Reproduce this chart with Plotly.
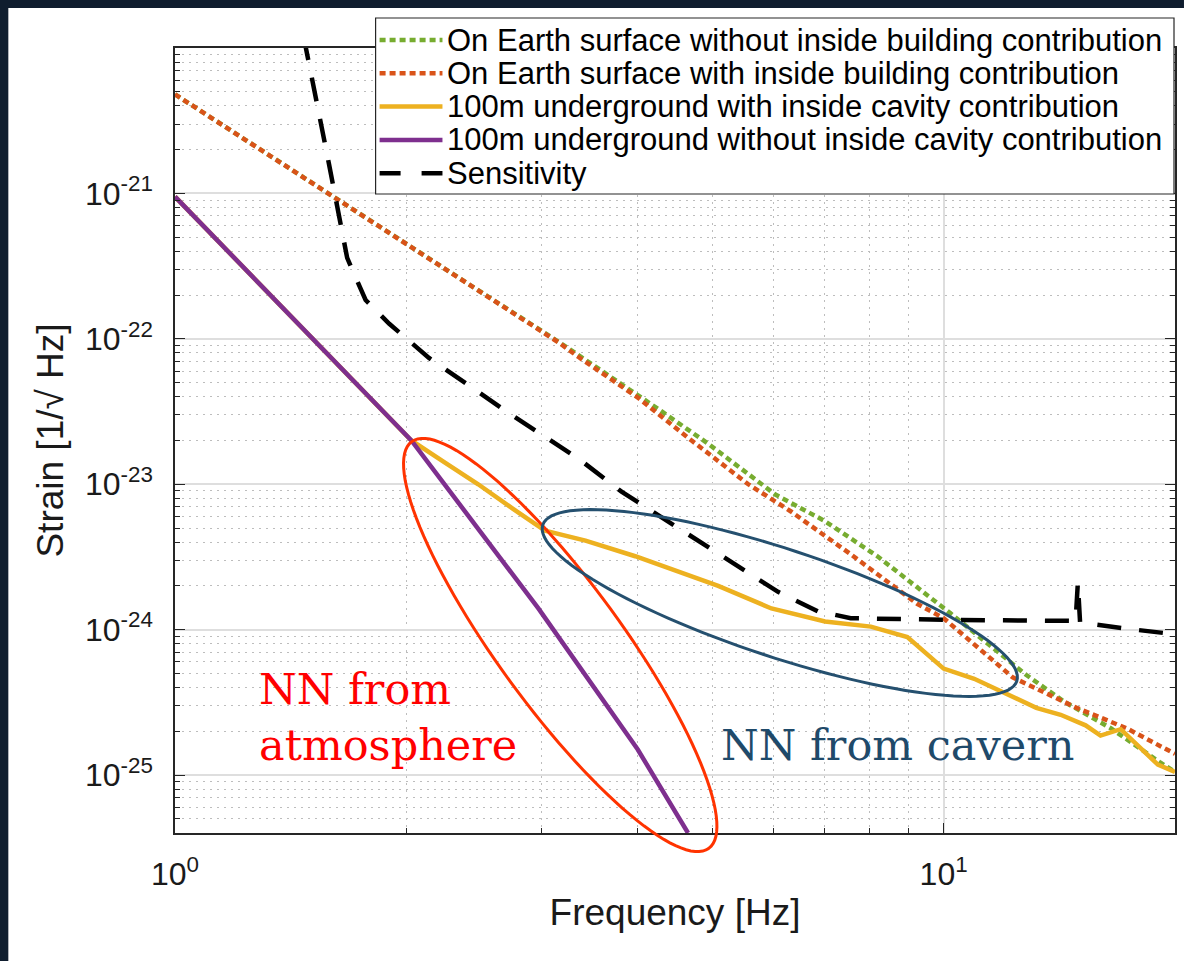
import numpy as np
import plotly.graph_objects as go

# ---------------- data ----------------
series_names = [
    "On Earth surface without inside building contribution",
    "On Earth surface with inside building contribution",
    "100m underground with inside cavity contribution",
    "100m underground without inside cavity contribution",
    "Sensitivity",
]

freq_surface_without = [1.0, 1.37, 1.61, 2.0, 2.5, 3.16, 3.6, 4.25, 4.94, 5.79, 6.04, 7.0,
                        8.2, 10.2, 12.8, 14.35, 16.5, 19.1, 20.0]
strain_surface_without = [4.8e-21, 1.63e-21, 9.4e-22, 4.5e-22, 2.1e-22, 9.5e-23, 6.0e-23, 3.3e-23,
                          1.9e-23, 1.0e-23, 8.5e-24, 5.6e-24, 3.2e-24, 1.3e-24, 4.9e-25, 3.2e-25,
                          2.1e-25, 1.23e-25, 1.05e-25]

freq_surface_with = [1.0, 1.37, 1.61, 2.0, 2.5, 3.16, 3.35, 4.0, 4.7, 5.57, 6.33, 7.07, 7.57,
                     9.25, 10.0, 12.3, 14.9, 17.3, 20.0]
strain_surface_with = [4.8e-21, 1.63e-21, 9.4e-22, 4.5e-22, 2.1e-22, 9.4e-23, 7.5e-23, 3.95e-23,
                       2.0e-23, 1.0e-23, 6.5e-24, 4.3e-24, 3.3e-24, 1.5e-24, 1.2e-24, 4.7e-25,
                       2.9e-25, 2.1e-25, 1.4e-25]

freq_cavity_with = [1.0, 2.03, 2.25, 2.48, 2.75, 3.03, 3.42, 3.97, 5.09, 5.97, 7.01, 8.04, 8.97,
                    10.0, 10.96, 12.2, 13.2, 14.2, 15.3, 16.0, 17.0, 19.0, 20.0]
strain_cavity_with = [9.5e-22, 2.0e-23, 1.4e-23, 1.0e-23, 6.8e-24, 4.8e-24, 4.1e-24, 3.2e-24,
                      2.0e-24, 1.4e-24, 1.14e-24, 1.05e-24, 8.9e-25, 5.4e-25, 4.6e-25, 3.5e-25,
                      2.9e-25, 2.6e-25, 2.2e-25, 1.87e-25, 2.07e-25, 1.18e-25, 1.05e-25]

freq_cavity_without = [1.0, 2.03, 2.97, 4.0, 4.65]
strain_cavity_without = [9.5e-22, 2.0e-23, 1.4e-24, 1.5e-25, 4.0e-26]

freq_sensitivity = [1.47, 1.54, 1.587, 1.675, 1.77, 1.90, 2.14, 2.74, 3.35, 3.81, 4.80, 6.09,
                    6.86, 7.57, 10.0, 14.85, 14.95, 15.05, 17.2, 20.0]
strain_sensitivity = [1.2e-20, 3.6e-21, 1.57e-21, 3.6e-22, 1.85e-22, 1.27e-22, 7.4e-23, 3.0e-23,
                      1.5e-23, 8.9e-24, 4.1e-24, 1.82e-24, 1.34e-24, 1.2e-24, 1.17e-24, 1.15e-24,
                      2.1e-24, 1.12e-24, 1.02e-24, 9.3e-25]

x_tick_vals = [1, 10]
x_tick_text = ["10<sup>0</sup>", "10<sup>1</sup>"]
y_tick_vals = [1e-25, 1e-24, 1e-23, 1e-22, 1e-21]
y_tick_text = ["10<sup>-25</sup>", "10<sup>-24</sup>", "10<sup>-23</sup>",
               "10<sup>-22</sup>", "10<sup>-21</sup>"]
x_minor_vals = [2, 3, 4, 5, 6, 7, 8, 9, 20]
y_minor_vals = [m * 10.0 ** k for k in range(-26, -20) for m in range(2, 10)]

x_range = [1.0, 20.0]
y_range = [4e-26, 1e-20]

# ---------------- styles ----------------
colors = ["#77AC30", "#D95319", "#EDB120", "#7E2F8E", "#000000"]
dashes = ["6px,4px", "6px,4px", "solid", "solid", "24px,18px"]
widths = [4.5, 4.5, 4.5, 4.5, 4.5]
legend_dashes = ["6px,4px", "6px,4px", "solid", "solid", "21px,21px"]

W, H = 1184, 961
ML, MR, MT, MB = 175, 7, 48, 128
PW = W - ML - MR
PH = H - MT - MB


def px2x(px):
    return (px - ML) / PW


def py2y(py):
    return (H - MB - py) / PH


def ellipse_path(cx, cy, a, b, ang_deg, n=120):
    t = np.linspace(0, 2 * np.pi, n, endpoint=False)
    th = np.radians(ang_deg)
    xs = cx + a * np.cos(t) * np.cos(th) - b * np.sin(t) * np.sin(th)
    ys = cy + a * np.cos(t) * np.sin(th) + b * np.sin(t) * np.cos(th)
    pts = [f"{px2x(x):.5f},{py2y(y):.5f}" for x, y in zip(xs, ys)]
    return "M" + " L".join(pts) + " Z"


fig = go.Figure()
series = [
    (freq_surface_without, strain_surface_without),
    (freq_surface_with, strain_surface_with),
    (freq_cavity_with, strain_cavity_with),
    (freq_cavity_without, strain_cavity_without),
    (freq_sensitivity, strain_sensitivity),
]
for (fx, fy), name, c, d, w in zip(series, series_names, colors, dashes, widths):
    fig.add_trace(go.Scatter(x=fx, y=fy, mode="lines", name=name, showlegend=False,
                             line=dict(color=c, width=w, dash=d)))

FONT = "Liberation Sans, Arial, Helvetica, sans-serif"
AX = "#262626"

common_axis = dict(
    type="log", showline=True, linecolor=AX, linewidth=1.5, mirror="allticks",
    ticks="inside", ticklen=10, tickwidth=1.2, tickcolor=AX,
    showgrid=True, gridcolor="#dedede", gridwidth=1.5, zeroline=False,
    tickfont=dict(family=FONT, size=32, color="#1a1a1a"),
    tickmode="array",
)

fig.update_xaxes(
    **common_axis,
    range=[np.log10(x_range[0]), np.log10(x_range[1])],
    tickvals=x_tick_vals, ticktext=x_tick_text, ticklabelstandoff=12,
    minor=dict(tickmode="array", tickvals=x_minor_vals, ticks="inside", ticklen=5,
               tickcolor=AX, showgrid=True, gridcolor="#bdbdbd", griddash="1.5px,5.5px", gridwidth=1.2),
    title=dict(text="Frequency [Hz]", font=dict(family=FONT, size=37, color="#1a1a1a"), standoff=8),
)
fig.update_yaxes(
    **common_axis,
    range=[np.log10(y_range[0]), np.log10(y_range[1])],
    tickvals=y_tick_vals, ticktext=y_tick_text, ticklabelstandoff=14,
    minor=dict(tickmode="array", tickvals=y_minor_vals, ticks="inside", ticklen=5,
               tickcolor=AX, showgrid=True, gridcolor="#bdbdbd", griddash="1.5px,5.5px", gridwidth=1.2),
    title=dict(text="Strain [1/√ Hz]", font=dict(family=FONT, size=37, color="#1a1a1a"), standoff=10),
)

shapes = []
# dark slide frame (top and left)
FRAME = "#0f1d2e"
shapes.append(dict(type="rect", xref="paper", yref="paper", layer="below",
                   x0=px2x(-2), x1=px2x(8), y0=py2y(H + 2), y1=py2y(-2),
                   line=dict(width=0), fillcolor=FRAME))
shapes.append(dict(type="rect", xref="paper", yref="paper", layer="below",
                   x0=px2x(-2), x1=px2x(W + 2), y0=py2y(8), y1=py2y(-2),
                   line=dict(width=0), fillcolor=FRAME))

# highlight ellipses
shapes.append(dict(type="path", xref="paper", yref="paper", layer="above",
                   path=ellipse_path(561, 645, 252, 62, 53.8),
                   line=dict(color="#ff3300", width=3), fillcolor="rgba(0,0,0,0)"))
shapes.append(dict(type="path", xref="paper", yref="paper", layer="above",
                   path=ellipse_path(781, 603, 250, 54, 18.2),
                   line=dict(color="#25506f", width=3), fillcolor="rgba(0,0,0,0)"))

# legend box and samples
LEG_X0, LEG_X1, LEG_Y0, LEG_Y1 = 376, 1176, 18, 194
shapes.append(dict(type="rect", xref="paper", yref="paper", layer="above",
                   x0=px2x(LEG_X0), x1=px2x(LEG_X1), y0=py2y(LEG_Y1), y1=py2y(LEG_Y0),
                   line=dict(color=AX, width=1.2), fillcolor="white"))
row_y = [40 + 33.3 * i for i in range(5)]
annotations = []
for name, c, d, ry in zip(series_names, colors, legend_dashes, row_y):
    shapes.append(dict(type="line", xref="paper", yref="paper", layer="above",
                       x0=px2x(380), x1=px2x(443), y0=py2y(ry), y1=py2y(ry),
                       line=dict(color=c, width=4.5, dash=d)))
    annotations.append(dict(xref="paper", yref="paper", x=px2x(446), y=py2y(ry),
                            xanchor="left", yanchor="middle", showarrow=False, text=name,
                            font=dict(family=FONT, size=31, color="#000000")))

SERIF = "DejaVu Serif, serif"
annotations.append(dict(xref="paper", yref="paper", x=px2x(257), y=py2y(717),
                        xanchor="left", yanchor="middle", align="left", showarrow=False,
                        text="NN from<br>atmosphere",
                        font=dict(family=SERIF, size=43, color="#ff0000")))
annotations.append(dict(xref="paper", yref="paper", x=px2x(720), y=py2y(745),
                        xanchor="left", yanchor="middle", showarrow=False,
                        text="NN from cavern",
                        font=dict(family=SERIF, size=43, color="#1f4a6a")))

fig.update_layout(
    width=W, height=H, autosize=False,
    margin=dict(l=ML, r=MR, t=MT, b=MB, pad=0),
    paper_bgcolor="white", plot_bgcolor="white",
    showlegend=False,
    shapes=shapes, annotations=annotations,
    font=dict(family=FONT, color="#1a1a1a", size=31),
)

fig.write_html("out.html", config={"displayModeBar": False},
               post_script="document.body.style.margin='0';document.body.style.overflow='hidden';")
